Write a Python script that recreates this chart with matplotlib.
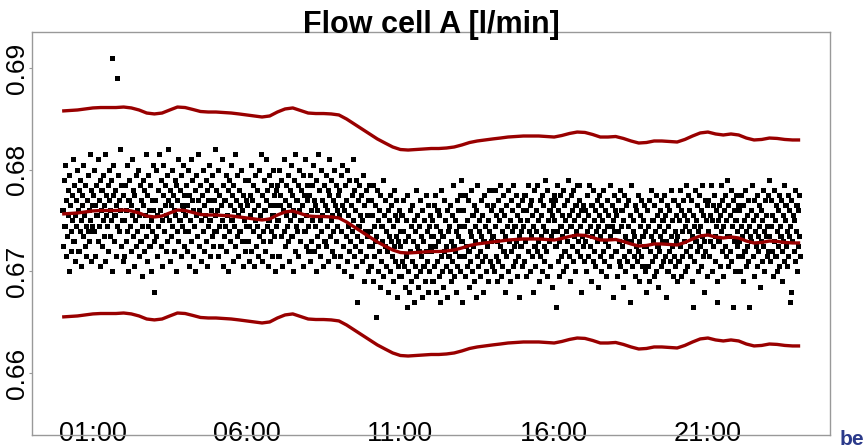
import numpy as np
import matplotlib
matplotlib.use("Agg")
import matplotlib.pyplot as plt

plt.rcParams['font.family'] = ['Liberation Sans', 'DejaVu Sans']

# ---------------- data ----------------
TITLE = "Flow cell A [l/min]"
x_tick_hours = [1, 6, 11, 16, 21]
x_tick_labels = ["01:00", "06:00", "11:00", "16:00", "21:00"]
y_ticks = [0.66, 0.67, 0.68, 0.69]
y_tick_labels = ["0.66", "0.67", "0.68", "0.69"]

# sensor readings, one per minute; each code is a quantisation step:
# flow = FLOW_BASE + FLOW_STEP * code
FLOW_BASE = 0.665
FLOW_STEP = 0.0005

flow_00_06 = [
    "22 22 15 28 19 19 31 13 24 17 17 26 21 10 29 23 23 18 14 25 20 32 16 16 27 21 12 24 19 30 22 14 14 26 18 28 20 11 23 25 17 31 21 21 15 27 19 13 24 24 29 18 22 16 33 20 12 26 23 19",
    "25 18 18 30 23 13 27 21 21 16 32 24 19 11 28 22 26 26 15 20 29 17 23 33 12 25 21 19 19 27 14 30 24 22 17 28 20 10 52 25 31 16 21 21 26 13 23 19 48 29 24 18 34 22 15 27 20 20 12 25",
    "20 13 27 27 22 16 31 18 24 10 24 28 19 19 14 23 21 32 17 26 11 25 20 20 29 15 22 18 30 13 21 27 16 16 24 9 19 28 23 14 26 21 21 33 17 12 25 19 29 22 15 15 27 20 10 24 18 31 22 16",
    "6 24 24 17 30 21 13 26 19 33 22 22 15 28 20 11 25 31 18 18 23 27 14 21 29 16 24 34 20 20 12 26 23 17 30 19 25 25 14 22 28 21 10 27 18 24 32 16 20 20 26 13 29 23 19 31 22 15 25 18",
    "21 27 27 14 23 30 18 11 25 20 20 32 16 24 28 13 22 19 19 26 10 29 21 17 17 24 33 15 22 27 20 12 25 25 18 30 23 14 21 21 28 16 11 26 19 24 31 20 20 13 27 22 17 29 15 24 24 18 34 21",
    "18 26 22 22 13 30 19 25 15 15 23 32 20 11 27 17 24 24 19 29 14 21 21 26 10 28 18 23 16 31 20 20 25 12 27 19 22 33 15 24 24 17 29 21 13 26 18 18 23 30 16 22 11 25 20 20 28 14 19 24",
]
flow_06_12 = [
    "23 16 16 28 19 12 25 21 31 14 24 24 18 27 11 22 20 29 15 15 26 19 13 23 30 17 21 21 33 12 25 18 16 28 22 22 14 24 32 19 26 11 20 20 29 16 23 18 27 13 21 21 30 17 25 10 23 19 26 20",
    "27 20 13 13 30 23 25 17 28 11 22 22 32 18 24 15 27 21 19 19 29 16 23 12 26 20 31 17 17 25 22 10 28 21 14 33 19 24 24 18 27 13 22 30 16 20 20 26 23 11 29 25 18 18 32 21 15 24 27 14",
    "19 25 25 12 29 22 16 27 20 31 14 14 24 19 23 10 28 17 22 33 15 26 26 20 13 30 18 24 21 11 27 16 16 23 29 15 22 19 26 12 25 32 17 17 20 28 14 21 24 18 30 13 23 23 27 16 22 19 11 25",
    "21 26 13 13 29 18 23 31 15 22 10 27 27 17 24 12 30 19 21 14 28 16 16 23 9 25 18 32 20 13 26 15 22 11 28 17 4 24 19 19 27 14 21 16 25 12 20 29 8 23 18 18 26 13 21 17 24 10 27 15",
    "18 11 11 24 15 21 8 27 13 19 16 23 1 17 26 26 10 20 14 22 7 25 12 19 19 16 28 9 21 15 24 11 18 14 14 22 6 20 17 25 10 16 23 13 13 19 8 26 15 12 21 17 24 5 20 11 16 22 9 18",
    "15 9 21 21 12 18 24 11 16 7 20 13 3 25 10 17 6 6 22 14 19 8 12 23 16 16 4 20 11 18 26 9 15 21 7 14 14 19 10 24 13 17 5 22 16 11 11 20 8 25 14 18 12 23 6 10 19 15 21 17",
]
flow_12_18 = [
    "14 20 8 8 17 23 11 25 15 6 19 12 22 22 16 9 21 4 18 13 26 10 17 17 7 24 14 20 11 15 22 5 18 13 13 19 10 23 16 8 21 12 27 15 15 9 20 14 18 6 24 11 17 22 13 19 10 25 28 16",
    "16 4 22 22 13 19 9 25 15 11 20 24 14 14 7 18 12 26 17 10 21 21 15 8 23 16 19 5 22 13 27 11 11 18 20 14 9 24 17 12 21 6 16 16 25 13 19 10 23 15 20 8 18 26 26 12 22 16 11 17",
    "17 23 10 10 19 26 13 21 8 16 24 12 20 20 15 27 9 22 18 11 25 14 14 21 6 17 23 13 19 10 26 16 16 20 8 24 14 18 22 11 27 15 19 19 12 25 16 9 21 13 23 17 5 20 15 15 18 11 24 22",
    "19 12 25 25 16 22 9 20 27 14 18 18 23 10 17 24 13 21 6 19 26 15 15 11 22 18 14 27 16 20 8 8 24 13 21 17 25 10 19 23 12 15 28 18 18 14 26 9 20 16 22 22 11 24 17 21 7 18 23 25",
    "20 24 15 15 3 18 27 12 22 16 9 25 19 19 13 21 17 26 10 23 14 14 20 18 11 24 16 28 13 21 8 19 19 25 15 22 12 26 17 20 10 23 23 18 14 27 16 21 27 24 19 13 22 6 17 17 23 15 20 12",
    "16 22 10 10 25 18 13 21 27 15 19 8 23 23 17 12 26 20 14 22 11 18 18 24 16 19 7 21 25 13 17 23 10 20 20 14 26 18 12 22 16 9 9 24 19 15 21 11 27 17 13 13 23 19 5 20 18 25 14 22",
]
flow_18_24 = [
    "14 21 9 9 18 24 12 16 26 11 19 22 22 15 7 20 13 25 17 10 23 16 16 12 19 24 14 4 21 16 27 11 11 18 20 13 17 23 9 15 22 12 12 25 14 16 8 21 19 13 24 11 17 17 20 15 23 10 18 6",
    "15 22 11 11 19 8 24 14 17 26 12 20 20 16 9 23 13 18 25 10 21 15 15 7 19 14 22 17 11 24 16 20 20 12 18 25 13 21 5 16 23 10 10 19 14 22 12 17 26 15 20 9 24 24 13 18 11 21 16 8",
    "17 23 12 12 20 26 15 9 22 18 13 24 24 16 21 10 19 27 14 20 11 25 25 18 22 15 13 24 17 8 3 21 19 12 26 16 16 20 14 23 10 18 25 15 15 19 11 22 17 27 13 21 6 16 24 14 20 20 9 23",
    "18 24 13 13 21 16 27 10 20 23 15 25 25 17 12 22 19 8 4 20 16 16 23 11 21 18 27 14 24 9 19 22 22 15 25 13 20 17 28 11 23 17 17 21 14 26 12 19 3 24 16 22 10 20 20 25 15 18 23 13",
    "16 22 10 10 19 25 13 17 23 8 20 14 14 26 18 11 21 15 24 12 3 19 17 17 22 16 27 13 20 9 24 18 18 15 21 11 25 17 14 23 19 7 7 16 22 12 20 26 15 18 10 24 24 17 21 13 19 25 14 28",
    "17 12 12 24 19 14 21 9 26 16 20 13 13 23 18 10 22 15 25 11 19 17 17 24 14 8 21 16 27 12 20 23 23 15 18 11 25 13 22 17 4 19 6 24 16 16 21 14 20 26 12 18 23 23 10 15 22 17 25 13",
]

# smoothed mean and control limits, read every quarter hour
band_hours = np.arange(0, 24.25, 0.25)
band_upper = [
    0.68577, 0.68582, 0.68587, 0.68597, 0.68607, 0.68611, 0.68611, 0.68611, 0.68616, 0.68607,
    0.68587, 0.68557, 0.68548, 0.68557, 0.68587, 0.68616, 0.68611, 0.68592, 0.68572, 0.68567,
    0.68567, 0.68562, 0.68557, 0.68548, 0.68538, 0.68528, 0.68518, 0.68528, 0.68567, 0.68597,
    0.68607, 0.68582, 0.68557, 0.68552, 0.68552, 0.68548, 0.68538, 0.68498, 0.68449, 0.68400,
    0.68351, 0.68302, 0.68262, 0.68223, 0.68198, 0.68193, 0.68198, 0.68203, 0.68208, 0.68208,
    0.68213, 0.68223, 0.68243, 0.68267, 0.68282, 0.68292, 0.68302, 0.68311, 0.68321, 0.68326,
    0.68331, 0.68331, 0.68331, 0.68326, 0.68321, 0.68336, 0.68356, 0.68370, 0.68366, 0.68346,
    0.68321, 0.68321, 0.68326, 0.68307, 0.68282, 0.68262, 0.68267, 0.68282, 0.68282, 0.68277,
    0.68272, 0.68297, 0.68331, 0.68361, 0.68370, 0.68351, 0.68341, 0.68351, 0.68341, 0.68311,
    0.68292, 0.68297, 0.68311, 0.68307, 0.68297, 0.68292, 0.68292]
band_mean = [
    0.67564, 0.67569, 0.67574, 0.67584, 0.67594, 0.67598, 0.67598, 0.67598, 0.67603, 0.67594,
    0.67574, 0.67544, 0.67535, 0.67544, 0.67574, 0.67603, 0.67598, 0.67579, 0.67559, 0.67554,
    0.67554, 0.67549, 0.67544, 0.67535, 0.67525, 0.67515, 0.67505, 0.67515, 0.67554, 0.67584,
    0.67594, 0.67569, 0.67544, 0.67539, 0.67539, 0.67535, 0.67525, 0.67485, 0.67436, 0.67387,
    0.67338, 0.67289, 0.67249, 0.67210, 0.67185, 0.67180, 0.67185, 0.67190, 0.67195, 0.67195,
    0.67200, 0.67210, 0.67230, 0.67254, 0.67269, 0.67279, 0.67289, 0.67298, 0.67308, 0.67313,
    0.67318, 0.67318, 0.67318, 0.67313, 0.67308, 0.67323, 0.67343, 0.67357, 0.67353, 0.67333,
    0.67308, 0.67308, 0.67313, 0.67294, 0.67269, 0.67249, 0.67254, 0.67269, 0.67269, 0.67264,
    0.67259, 0.67284, 0.67318, 0.67348, 0.67357, 0.67338, 0.67328, 0.67338, 0.67328, 0.67298,
    0.67279, 0.67284, 0.67298, 0.67294, 0.67284, 0.67279, 0.67279]
band_lower = [
    0.66551, 0.66556, 0.66561, 0.66571, 0.66581, 0.66585, 0.66585, 0.66585, 0.66590, 0.66581,
    0.66561, 0.66531, 0.66522, 0.66531, 0.66561, 0.66590, 0.66585, 0.66566, 0.66546, 0.66541,
    0.66541, 0.66536, 0.66531, 0.66522, 0.66512, 0.66502, 0.66492, 0.66502, 0.66541, 0.66571,
    0.66581, 0.66556, 0.66531, 0.66526, 0.66526, 0.66522, 0.66512, 0.66472, 0.66423, 0.66374,
    0.66325, 0.66276, 0.66236, 0.66197, 0.66172, 0.66167, 0.66172, 0.66177, 0.66182, 0.66182,
    0.66187, 0.66197, 0.66217, 0.66241, 0.66256, 0.66266, 0.66276, 0.66285, 0.66295, 0.66300,
    0.66305, 0.66305, 0.66305, 0.66300, 0.66295, 0.66310, 0.66330, 0.66344, 0.66340, 0.66320,
    0.66295, 0.66295, 0.66300, 0.66281, 0.66256, 0.66236, 0.66241, 0.66256, 0.66256, 0.66251,
    0.66246, 0.66271, 0.66305, 0.66335, 0.66344, 0.66325, 0.66315, 0.66325, 0.66315, 0.66285,
    0.66266, 0.66271, 0.66285, 0.66281, 0.66271, 0.66266, 0.66266]

# ---------------- build series ----------------
codes = []
for block in (flow_00_06, flow_06_12, flow_12_18, flow_18_24):
    for hour_str in block:
        codes.extend(int(c) for c in hour_str.split())
codes = np.array(codes)
flow = FLOW_BASE + FLOW_STEP * codes
minutes_hours = np.arange(len(flow)) / 60.0

# ---------------- figure ----------------
W, H = 865, 448
fig = plt.figure(figsize=(W / 100, H / 100), dpi=100)
ax = fig.add_axes([32 / W, (H - 435) / H, (830 - 32) / W, (435 - 32) / H])

red = "#990000"
ax.plot(minutes_hours, flow, linestyle="none", marker="s", markersize=3.6,
        markeredgewidth=0, color="black", antialiased=False, zorder=2)
for series in (band_upper, band_mean, band_lower):
    ax.plot(band_hours, series, color=red, linewidth=2.4, solid_capstyle="butt",
            solid_joinstyle="round", zorder=3)

ax.set_xlim(-0.98, 24.97)
ax.set_ylim(0.6539, 0.69354)

ax.set_xticks(x_tick_hours)
ax.set_xticklabels(x_tick_labels)
ax.set_yticks(y_ticks)
ax.set_yticklabels(y_tick_labels, rotation=90, va="center")

ax.tick_params(axis="x", length=0, pad=-10, labelsize=19.5)
ax.tick_params(axis="y", length=2.5, width=0.8, color="#999999", pad=-0.5, labelsize=19)

for sp in ax.spines.values():
    sp.set_color("#999999")
    sp.set_linewidth(1.0)

ax.text(0.5, 0.997, TITLE, transform=ax.transAxes, ha="center", va="baseline",
        fontsize=22, fontweight="bold", color="black", zorder=5)

fig.text(840 / W, 3 / H, "be", ha="left", va="baseline", fontsize=15,
         fontweight="bold", color="#2b3a8a")

fig.savefig("out.png", dpi=100)
